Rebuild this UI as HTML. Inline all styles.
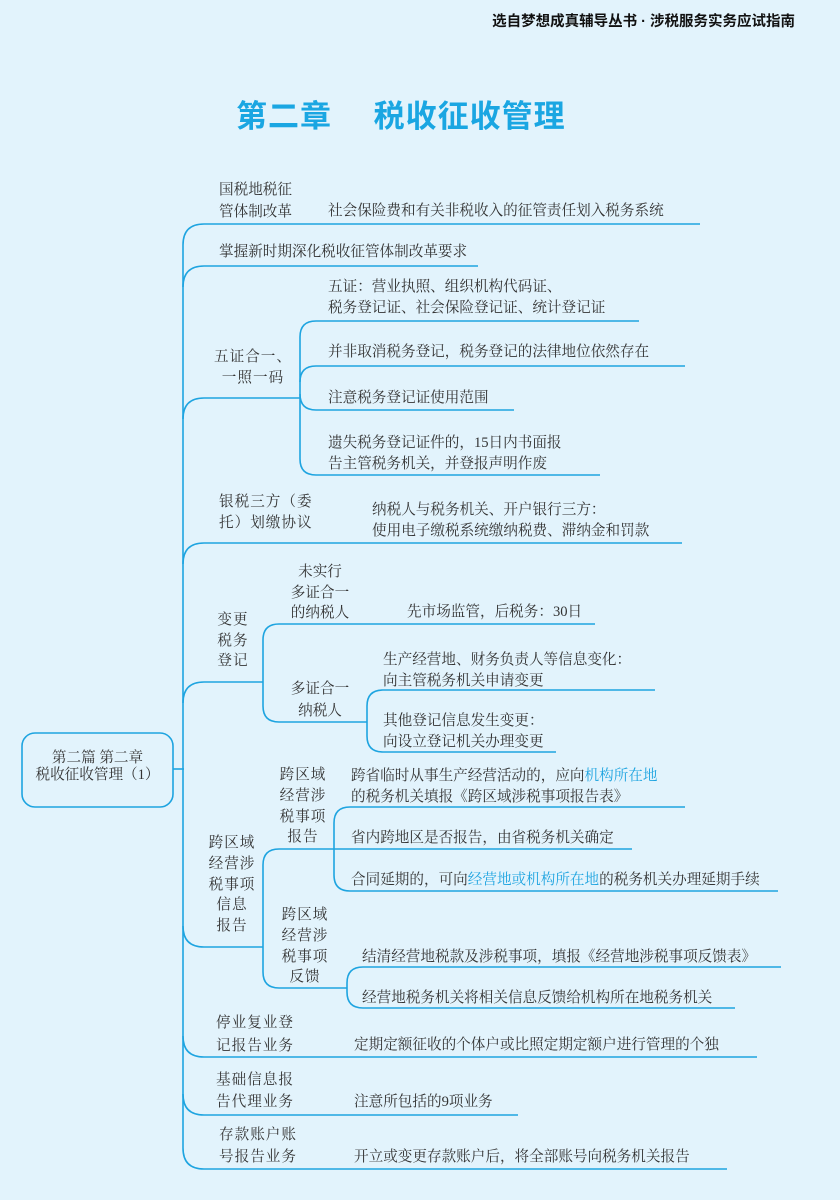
<!DOCTYPE html>
<html><head><meta charset="utf-8"><style>
html,body{margin:0;padding:0}
body{width:840px;height:1200px;background:#e2f3fc;position:relative;overflow:hidden;font-family:"Liberation Serif","Noto Serif CJK SC","Noto Sans CJK SC",serif;color:#333}
.t{position:absolute;font-size:14.6px;line-height:21px;white-space:nowrap}
.c{text-align:center}
.b{color:#1ea4e0}
svg{position:absolute;left:0;top:0}
</style></head><body>
<div class="t" style="right:45px;top:12px;font-size:14.5px;font-weight:bold;color:#111;font-family:'Liberation Sans','Noto Sans CJK SC',sans-serif">选自梦想成真辅导丛书 · 涉税服务实务应试指南</div>
<div class="t" style="left:236px;top:96px;font-size:31px;line-height:42px;font-weight:bold;color:#1aa6e2;font-family:'Liberation Sans','Noto Sans CJK SC',sans-serif;letter-spacing:1px">第二章　 税收征收管理</div>

<svg width="840" height="1200" fill="none" stroke="#1ea4e0" stroke-width="1.6">
<path d="M183,245 L183,1148"/>
<path d="M183,245 Q183,224 204,224 L700,224"/>
<path d="M183,287 Q183,266 204,266 L478,266"/>
<path d="M183,419 Q183,398 204,398 L300,398"/>
<path d="M183,564 Q183,543 204,543 L682,543"/>
<path d="M183,703 Q183,682 204,682 L263,682"/>
<path d="M183,926 Q183,947 204,947 L263,947"/>
<path d="M183,1036 Q183,1057 204,1057 L757,1057"/>
<path d="M183,1094 Q183,1115 204,1115 L518,1115"/>
<path d="M183,1148 Q183,1169 204,1169 L727,1169"/>
<path d="M173,769 L184,769"/>
<rect x="22" y="733" width="151" height="74" rx="13"/>
<path d="M316,321 Q300,321 300,337 L300,459 Q300,475 316,475 L600,475"/>
<path d="M316,321 L639,321"/>
<path d="M300,382 Q300,366 316,366 L685,366"/>
<path d="M300,394 Q300,410 316,410 L514,410"/>
<path d="M279,624 Q263,624 263,640 L263,706 Q263,722 279,722 L367,722"/>
<path d="M279,624 L595,624"/>
<path d="M383,690 Q367,690 367,706 L367,736 Q367,752 383,752 L556,752"/>
<path d="M383,690 L655,690"/>
<path d="M279,849 Q263,849 263,865 L263,972 Q263,988 279,988 L347,988"/>
<path d="M279,849 L632,849"/>
<path d="M350,807 Q334,807 334,823 L334,875 Q334,891 350,891 L778,891"/>
<path d="M350,807 L685,807"/>
<path d="M363,967 Q347,967 347,983 L347,992 Q347,1008 363,1008 L735,1008"/>
<path d="M363,967 L781,967"/>
</svg>

<div class="t c" style="left:22px;top:750px;width:151px;line-height:17px">第二篇 第二章<br>税收征收管理（1）</div>

<div class="t" style="left:219px;top:179px;line-height:22px">国税地税征<br>管体制改革</div>
<div class="t" style="left:328px;top:201px">社会保险费和有关非税收入的征管责任划入税务系统</div>
<div class="t" style="left:219px;top:242px">掌握新时期深化税收征管体制改革要求</div>

<div class="t c" style="left:211px;top:347px;width:84px;letter-spacing:1px">五证合一、<br>一照一码</div>
<div class="t" style="left:328px;top:277px">五证：营业执照、组织机构代码证、<br>税务登记证、社会保险登记证、统计登记证</div>
<div class="t" style="left:328px;top:342px">并非取消税务登记，税务登记的法律地位依然存在</div>
<div class="t" style="left:328px;top:388px">注意税务登记证使用范围</div>
<div class="t" style="left:328px;top:433px">遗失税务登记证件的，15日内书面报<br>告主管税务机关，并登报声明作废</div>

<div class="t" style="left:219px;top:492px;letter-spacing:1px">银税三方（委<br>托）划缴协议</div>
<div class="t" style="left:372px;top:500px">纳税人与税务机关、开户银行三方：<br>使用电子缴税系统缴纳税费、滞纳金和罚款</div>

<div class="t c" style="left:208px;top:610px;width:50px;line-height:20.5px;letter-spacing:1px">变更<br>税务<br>登记</div>
<div class="t c" style="left:280px;top:562px;width:80px;line-height:20.5px">未实行<br>多证合一<br>的纳税人</div>
<div class="t" style="left:407px;top:602px">先市场监管，后税务：30日</div>
<div class="t c" style="left:280px;top:678px;width:80px;line-height:22px">多证合一<br>纳税人</div>
<div class="t" style="left:383px;top:650px">生产经营地、财务负责人等信息变化：<br>向主管税务机关申请变更</div>
<div class="t" style="left:383px;top:711px">其他登记信息发生变更：<br>向设立登记机关办理变更</div>

<div class="t c" style="left:202px;top:833px;width:60px;line-height:20.8px;letter-spacing:1px">跨区域<br>经营涉<br>税事项<br>信息<br>报告</div>
<div class="t c" style="left:273px;top:765px;width:60px;line-height:20.8px;letter-spacing:1px">跨区域<br>经营涉<br>税事项<br>报告</div>
<div class="t" style="left:351px;top:766px">跨省临时从事生产经营活动的，应向<span class="b">机构所在地</span><br>的税务机关填报《跨区域涉税事项报告表》</div>
<div class="t" style="left:351px;top:828px">省内跨地区是否报告，由省税务机关确定</div>
<div class="t" style="left:351px;top:870px">合同延期的，可向<span class="b">经营地或机构所在地</span>的税务机关办理延期手续</div>
<div class="t c" style="left:275px;top:905px;width:60px;line-height:20.8px;letter-spacing:1px">跨区域<br>经营涉<br>税事项<br>反馈</div>
<div class="t" style="left:362px;top:947px">结清经营地税款及涉税事项，填报《经营地涉税事项反馈表》</div>
<div class="t" style="left:362px;top:988px">经营地税务机关将相关信息反馈给机构所在地税务机关</div>

<div class="t" style="left:216px;top:1012px;line-height:23px;letter-spacing:1px">停业复业登<br>记报告业务</div>
<div class="t" style="left:354px;top:1035px">定期定额征收的个体户或比照定期定额户进行管理的个独</div>
<div class="t" style="left:216px;top:1069px;line-height:22px;letter-spacing:1px">基础信息报<br>告代理业务</div>
<div class="t" style="left:354px;top:1092px">注意所包括的9项业务</div>
<div class="t" style="left:219px;top:1124px;line-height:22px;letter-spacing:1px">存款账户账<br>号报告业务</div>
<div class="t" style="left:354px;top:1147px">开立或变更存款账户后，将全部账号向税务机关报告</div>
</body></html>
